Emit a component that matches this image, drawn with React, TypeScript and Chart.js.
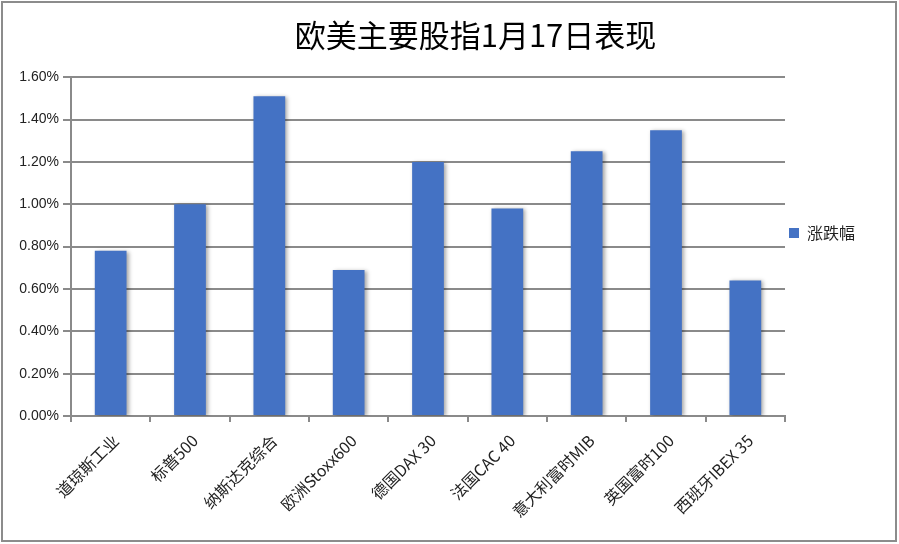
import React, { useEffect, useRef } from "react";
import { Chart, registerables } from "chart.js";

Chart.register(...registerables);

const chartTitle = "欧美主要股指1月17日表现";
const seriesName = "涨跌幅";
const categories = [
  "道琼斯工业",
  "标普500",
  "纳斯达克综合",
  "欧洲Stoxx600",
  "德国DAX 30",
  "法国CAC 40",
  "意大利富时MIB",
  "英国富时100",
  "西班牙IBEX 35",
];
const changePct = [0.78, 1.0, 1.51, 0.69, 1.2, 0.98, 1.25, 1.35, 0.64];
const yMin = 0;
const yMax = 1.6;
const yStep = 0.2;

const GRID = "#8a8a8a";
const BAR = "#4472C4";

export default function App() {
  const ref = useRef<HTMLCanvasElement | null>(null);

  useEffect(() => {
    document.body.style.margin = "0";
    const canvas = ref.current;
    if (!canvas) return;

    const shadowPlugin = {
      id: "barShadow",
      beforeDatasetsDraw(chart: any) {
        const ctx = chart.ctx;
        ctx.save();
        ctx.shadowColor = "rgba(0,0,0,0.35)";
        ctx.shadowBlur = 4;
        ctx.shadowOffsetX = 2;
        ctx.shadowOffsetY = 1;
      },
      afterDatasetsDraw(chart: any) {
        chart.ctx.restore();
      },
    };

    // nudge title and legend to where the reference places them
    const placePlugin = {
      id: "place",
      afterLayout(chart: any) {
        const lg = chart.legend;
        if (lg) {
          lg.top -= 39;
          lg.bottom -= 39;
        }
        const tb = chart.titleBlock;
        if (tb) {
          tb.left += 43;
          tb.right += 43;
        }
      },
    };

    const framePlugin = {
      id: "frame",
      beforeDraw(chart: any) {
        const ctx = chart.ctx;
        ctx.save();
        ctx.fillStyle = "#ffffff";
        ctx.fillRect(0, 0, chart.width, chart.height);
        ctx.restore();
      },
      afterDraw(chart: any) {
        const ctx = chart.ctx;
        ctx.save();
        ctx.strokeStyle = "#8c8c8c";
        ctx.lineWidth = 2;
        ctx.strokeRect(2, 2, chart.width - 5, chart.height - 5);
        ctx.restore();
      },
    };

    const chart = new Chart(canvas, {
      type: "bar",
      data: {
        labels: categories,
        datasets: [
          {
            label: seriesName,
            data: changePct,
            backgroundColor: BAR,
            borderWidth: 0,
            barPercentage: 0.4,
            categoryPercentage: 1,
          },
        ],
      },
      options: {
        responsive: false,
        animation: false,
        devicePixelRatio: 1,
        layout: { padding: { left: 0, right: 34, top: 0, bottom: 0 } },
        plugins: {
          title: {
            display: true,
            text: chartTitle,
            color: "#000",
            font: { family: "'Noto Sans CJK SC'", size: 31, weight: "normal" },
            padding: { top: 17, bottom: 23 },
          },
          legend: {
            display: true,
            position: "right",
            labels: {
              boxWidth: 10,
              boxHeight: 10,
              padding: 4,
              color: "#222",
              font: { family: "'Noto Sans CJK SC'", size: 16 },
            },
          },
          tooltip: { enabled: false },
        },
        scales: {
          x: {
            offset: true,
            afterFit(scale: any) {
              scale.height = 128;
            },
            grid: {
              offset: true,
              drawOnChartArea: false,
              drawTicks: true,
              tickLength: 6,
              color: GRID,
              lineWidth: 2,
            },
            border: { color: GRID, width: 2 },
            ticks: {
              minRotation: 45,
              maxRotation: 45,
              autoSkip: false,
              color: "#222",
              padding: 9,
              labelOffset: 5,
              font: { family: "'Noto Sans CJK SC'", size: 16 },
            },
          },
          y: {
            min: yMin,
            max: yMax,
            afterFit(scale: any) {
              scale.width = 71;
            },
            grid: {
              color: GRID,
              lineWidth: 2,
              drawTicks: true,
              tickLength: 8,
            },
            border: { color: GRID, width: 2 },
            ticks: {
              stepSize: yStep,
              color: "#222",
              padding: 4,
              font: { family: "'Liberation Sans'", size: 14 },
              callback: (v: any) => Number(v).toFixed(2) + "%",
            },
          },
        },
      },
      plugins: [framePlugin, shadowPlugin, placePlugin],
    });

    return () => chart.destroy();
  }, []);

  return <canvas ref={ref} width={899} height={544} style={{ display: "block" }} />;
}
